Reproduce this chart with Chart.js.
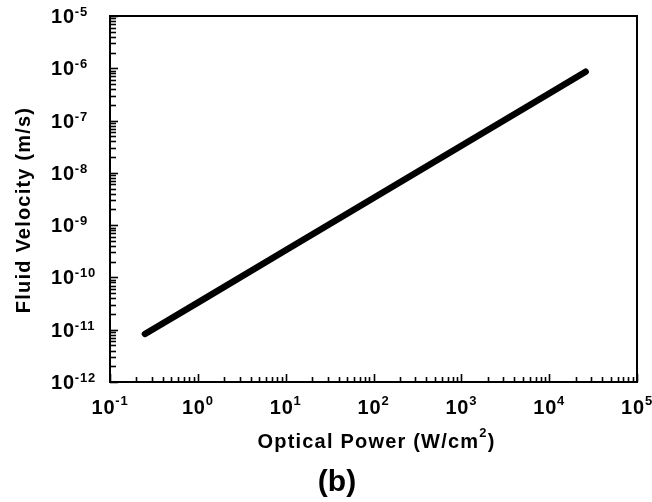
<!DOCTYPE html>
<html>
<head>
<meta charset="utf-8">
<script src="https://cdn.jsdelivr.net/npm/chart.js@4"></script>
<style>
  html, body { margin: 0; padding: 0; background: #fff; }
  #wrap { width: 652px; height: 502px; position: relative; }
</style>
</head>
<body>
<div id="wrap"><canvas id="c" width="652" height="502"></canvas></div>
<script>
// ---- data ----
const opticalPower = [0.25, 1, 10, 100, 1000, 10000, 26000];          // W/cm^2
const fluidVelocity = [8.3e-12, 3.3e-11, 3.3e-10, 3.3e-9, 3.3e-8, 3.3e-7, 8.6e-7]; // m/s
const xTickExponents = [-1, 0, 1, 2, 3, 4, 5];
const yTickExponents = [-12, -11, -10, -9, -8, -7, -6, -5];
const xTitle = "Optical Power (W/cm";
const xTitleSup = "2";
const xTitleEnd = ")";
const yTitle = "Fluid Velocity (m/s)";
const panelLabel = "(b)";

const FONT = "'Liberation Sans', Arial, sans-serif";

const decorPlugin = {
  id: 'decor',
  afterDraw(chart) {
    const ctx = chart.ctx;
    const xs = chart.scales.x, ys = chart.scales.y;
    const a = chart.chartArea;
    ctx.save();
    ctx.strokeStyle = '#000';
    ctx.fillStyle = '#000';
    // frame
    ctx.lineWidth = 2;
    ctx.strokeRect(a.left, a.top, a.right - a.left, a.bottom - a.top);

    // inward ticks
    ctx.lineWidth = 1.6;
    for (let i = 0; i < xTickExponents.length; i++) {
      const e = xTickExponents[i];
      const base = Math.pow(10, e);
      const px = Math.round(xs.getPixelForValue(base)) + 0.5;
      ctx.beginPath(); ctx.moveTo(px, a.bottom); ctx.lineTo(px, a.bottom - 8); ctx.stroke();
      if (i < xTickExponents.length - 1) {
        for (let m = 2; m <= 9; m++) {
          const p = Math.round(xs.getPixelForValue(m * base)) + 0.5;
          ctx.beginPath(); ctx.moveTo(p, a.bottom); ctx.lineTo(p, a.bottom - 5); ctx.stroke();
        }
      }
    }
    for (let i = 0; i < yTickExponents.length; i++) {
      const e = yTickExponents[i];
      const base = Math.pow(10, e);
      const py = Math.round(ys.getPixelForValue(base)) + 0.5;
      ctx.beginPath(); ctx.moveTo(a.left, py); ctx.lineTo(a.left + 8, py); ctx.stroke();
      if (i < yTickExponents.length - 1) {
        for (let m = 2; m <= 9; m++) {
          const p = Math.round(ys.getPixelForValue(m * base)) + 0.5;
          ctx.beginPath(); ctx.moveTo(a.left, p); ctx.lineTo(a.left + 6, p); ctx.stroke();
        }
      }
    }

    // tick labels
    const bigF = 'bold 20px ' + FONT;
    const supF = 'bold 13px ' + FONT;
    ctx.textBaseline = 'alphabetic';
    ctx.textAlign = 'left';
    ctx.letterSpacing = '0.8px';
    // x labels
    for (const e of xTickExponents) {
      const px = xs.getPixelForValue(Math.pow(10, e));
      ctx.font = bigF; const w1 = ctx.measureText('10').width;
      ctx.font = supF; const w2 = ctx.measureText(String(e)).width;
      const x0 = px - (w1 + w2) / 2;
      ctx.font = bigF; ctx.fillText('10', x0, a.bottom + 32);
      ctx.font = supF; ctx.fillText(String(e), x0 + w1, a.bottom + 23);
    }
    // y labels (left aligned)
    for (const e of yTickExponents) {
      const py = ys.getPixelForValue(Math.pow(10, e));
      ctx.font = bigF; const w1 = ctx.measureText('10').width;
      ctx.fillText('10', 51, py + 7);
      ctx.font = supF; ctx.fillText(String(e), 51 + w1, py);
    }

    // y title
    ctx.letterSpacing = '1.2px';
    ctx.save();
    ctx.translate(24, (a.top + a.bottom) / 2 + 11);
    ctx.rotate(-Math.PI / 2);
    ctx.font = 'bold 20px ' + FONT;
    ctx.textAlign = 'center';
    ctx.textBaseline = 'middle';
    ctx.fillText(yTitle, 0, 0);
    ctx.restore();

    // x title with superscript
    const tF = 'bold 20px ' + FONT;
    const tS = 'bold 13px ' + FONT;
    ctx.font = tF; const t1 = ctx.measureText(xTitle).width; const t3 = ctx.measureText(xTitleEnd).width;
    ctx.font = tS; const t2 = ctx.measureText(xTitleSup).width;
    const cx = (a.left + a.right) / 2 + 3;
    let tx = cx - (t1 + t2 + t3) / 2;
    ctx.textAlign = 'left';
    ctx.textBaseline = 'alphabetic';
    ctx.font = tF; ctx.fillText(xTitle, tx, 448);
    ctx.font = tS; ctx.fillText(xTitleSup, tx + t1, 437);
    ctx.font = tF; ctx.fillText(xTitleEnd, tx + t1 + t2, 448);

    // panel label
    ctx.letterSpacing = '0px';
    ctx.font = 'bold 30px ' + FONT;
    ctx.textAlign = 'center';
    ctx.fillText(panelLabel, 337, 491);
    ctx.restore();
  }
};

new Chart(document.getElementById('c'), {
  type: 'scatter',
  data: {
    datasets: [{
      data: opticalPower.map((p, i) => ({ x: p, y: fluidVelocity[i] })),
      showLine: true,
      borderColor: '#000',
      backgroundColor: '#000',
      borderWidth: 6.5,
      borderCapStyle: 'round',
      borderJoinStyle: 'round',
      pointRadius: 0,
      tension: 0
    }]
  },
  options: {
    responsive: false,
    animation: false,
    events: [],
    layout: { padding: { left: 110, right: 15, top: 16, bottom: 120 } },
    plugins: { legend: { display: false }, tooltip: { enabled: false }, title: { display: false } },
    scales: {
      x: { type: 'logarithmic', min: 0.1, max: 100000, display: false },
      y: { type: 'logarithmic', min: 1e-12, max: 1e-5, display: false }
    }
  },
  plugins: [decorPlugin]
});
</script>
</body>
</html>
